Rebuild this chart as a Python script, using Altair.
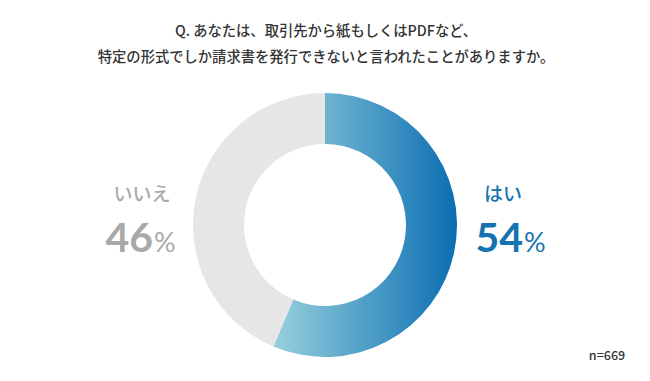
import altair as alt
import pandas as pd

categories = ["はい", "いいえ"]
# share of the ring as drawn in the picture (the ring is drawn slightly past 54%)
arc_share = [56.4, 43.6]
# percentages printed on the chart
pct_labels = ["54", "46"]
order = [1, 2]
title_lines = ["Q. あなたは、取引先から紙もしくはPDFなど、",
               "特定の形式でしか請求書を発行できないと言われたことがありますか。"]
note = "n=669"

df = pd.DataFrame({"category": categories, "value": arc_share,
                   "pct": pct_labels, "order": order})

W, H = 634, 365
CX, CY = 317, 217
JP = "Noto Sans CJK JP"

grad = alt.Gradient(
    gradient="linear",
    stops=[alt.GradientStop(color="#97D0DD", offset=0),
           alt.GradientStop(color="#0A6EB2", offset=1)],
    x1=0, x2=1, y1=0, y2=0,
)

base = alt.Chart(df)

donut = base.mark_arc(radius=132, innerRadius=81, stroke=None).encode(
    theta=alt.Theta("value:Q", stack=True),
    order=alt.Order("order:Q"),
    color=alt.condition(alt.datum.category == "はい", alt.value(grad), alt.value("#E6E6E6")),
    x=alt.value(CX),
    y=alt.value(CY),
)

def cat_label(cat, x, color):
    return base.transform_filter(alt.datum.category == cat).mark_text(
        font=JP, fontSize=19, fontWeight=500, color=color, align="center", baseline="middle"
    ).encode(text="category:N", x=alt.value(x), y=alt.value(187))

def num_label(cat, xr, color):
    num = base.transform_filter(alt.datum.category == cat).mark_text(
        font="Lato", fontSize=41, fontWeight="bold", color=color, align="right", baseline="alphabetic"
    ).encode(text=alt.Text("pct:N"), x=alt.value(xr), y=alt.value(244))
    pct = base.transform_filter(alt.datum.category == cat).mark_text(
        font="Lato", fontSize=27, fontWeight="normal", color=color, align="left", baseline="alphabetic"
    ).encode(text=alt.value("%"), x=alt.value(xr + 1), y=alt.value(244))
    return num + pct

def title_line(i, y):
    tdf = pd.DataFrame({"line": [title_lines[i]]})
    return alt.Chart(tdf).mark_text(
        font=JP, fontSize=14.3, fontWeight=500, color="#333333", align="center", baseline="middle"
    ).encode(text="line:N", x=alt.value(W / 2 + 1), y=alt.value(y))

ndf = pd.DataFrame({"t": [note]})
nlabel = alt.Chart(ndf).mark_text(
    font=JP, fontSize=12.5, fontWeight=500, color="#333333", align="center", baseline="middle"
).encode(text="t:N", x=alt.value(599), y=alt.value(348))

chart = alt.layer(
    donut,
    cat_label("いいえ", 134, "#A9A9A9"),
    cat_label("はい", 495, "#1473B0"),
    num_label("いいえ", 145, "#A9A9A9"),
    num_label("はい", 515, "#1473B0"),
    title_line(0, 24),
    title_line(1, 50),
    nlabel,
).properties(width=W, height=H, padding=0, autosize=alt.AutoSizeParams(type="none")).configure_view(stroke=None)

chart.save("out.html", embed_options={"renderer": "svg", "actions": False})
